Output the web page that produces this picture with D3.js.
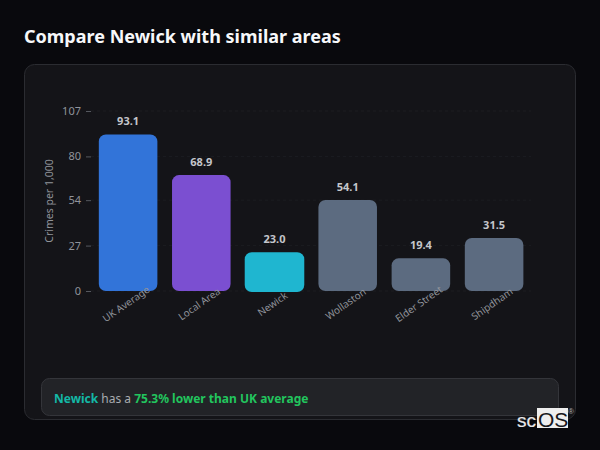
<!DOCTYPE html>
<html>
<head>
<meta charset="utf-8">
<script src="https://cdn.jsdelivr.net/npm/d3@7"></script>
<style>
  html, body { margin: 0; padding: 0; background: #09090d; }
  svg { display: block; font-family: "Noto Sans", sans-serif; }
</style>
</head>
<body>
<div id="vis"></div>
<script>
const areas = ["UK Average", "Local Area", "Newick", "Wollaston", "Elder Street", "Shipdham"]
const crimes = [93.1, 68.9, 23.0, 54.1, 19.4, 31.5]
const barColors = ["#3274d9", "#7b4fd1", "#1fb6d0", "#5c6b80", "#5c6b80", "#5c6b80"]
const yTicks = [0, 27, 54, 80, 107]

const width = 600, height = 450

const svg = d3.select("#vis").append("svg")
  .attr("width", width)
  .attr("height", height)

svg.append("text")
  .attr("x", 24).attr("y", 43)
  .attr("font-size", 18).attr("font-weight", 700)
  .attr("fill", "#f7f8fa")
  .text("Compare Newick with similar areas")

// card
svg.append("rect")
  .attr("x", 24.5).attr("y", 64.5)
  .attr("width", 551).attr("height", 355)
  .attr("rx", 10)
  .attr("fill", "#141418")
  .attr("stroke", "#2b2c31")

const x = d3.scaleBand().domain(areas).range([91.5, 530.7]).paddingInner(0.2).paddingOuter(0.1)
const y = d3.scaleLinear().domain([0, 107]).range([291, 111])

// grid
svg.append("g").selectAll("line")
  .data(yTicks)
  .join("line")
  .attr("x1", 91).attr("x2", 531)
  .attr("y1", d => y(d)).attr("y2", d => y(d))
  .attr("stroke", "#1c1d21")
  .attr("stroke-dasharray", "3,3")

const yAxis = svg.append("g")
  .attr("transform", "translate(91,0)")
  .call(d3.axisLeft(y).tickValues(yTicks).tickSize(5).tickPadding(5))
yAxis.select(".domain").remove()
yAxis.selectAll("line").attr("stroke", "#55585f")
yAxis.selectAll("text")
  .attr("fill", "#90939a")
  .attr("font-size", 11)
  .attr("font-family", "Noto Sans")

svg.append("text")
  .attr("transform", "translate(53,201) rotate(-90)")
  .attr("text-anchor", "middle")
  .attr("font-size", 10.5)
  .attr("fill", "#90939a")
  .text("Crimes per 1,000")

// bars, rounded on all corners
const bars = svg.append("g").selectAll("rect")
  .data(areas)
  .join("rect")
  .attr("x", d => x(d))
  .attr("y", (d, i) => y(crimes[i]))
  .attr("width", x.bandwidth())
  .attr("height", (d, i) => y(0) - y(crimes[i]))
  .attr("rx", 7)
  .attr("fill", (d, i) => barColors[i])

// highlighted bar is a little larger
bars.filter(d => d === "Newick")
  .attr("x", x("Newick") - 0.5)
  .attr("width", x.bandwidth() + 1)
  .attr("height", y(0) - y(23.0) + 1)

svg.append("g").selectAll("text")
  .data(areas)
  .join("text")
  .attr("x", d => x(d) + x.bandwidth() / 2)
  .attr("y", (d, i) => y(crimes[i]) - 9)
  .attr("text-anchor", "middle")
  .attr("font-size", 11)
  .attr("font-weight", 700)
  .attr("fill", "#c4c6cb")
  .text((d, i) => crimes[i].toFixed(1))

// labels are rotated about their own centre
const xAxis = svg.append("g")
  .attr("transform", "translate(0,291)")
  .call(d3.axisBottom(x).tickSize(0).tickPadding(0))
xAxis.select(".domain").remove()
xAxis.selectAll("text")
  .attr("fill", "#90939a")
  .attr("font-size", 10)
  .attr("font-family", "Noto Sans")
  .attr("text-anchor", "middle")
  .attr("y", 0)
  .attr("dy", "0.35em")
  .attr("transform", "translate(-2,13) rotate(-35)")

// note box
svg.append("rect")
  .attr("x", 41.5).attr("y", 378.5)
  .attr("width", 517).attr("height", 37)
  .attr("rx", 8)
  .attr("fill", "#222327")
  .attr("stroke", "#34353a")

const note = svg.append("text")
  .attr("x", 54).attr("y", 403)
  .attr("font-size", 12)
note.append("tspan").attr("font-weight", 700).attr("fill", "#14b8a6").text("Newick")
note.append("tspan").attr("fill", "#a9abb0").text(" has a ")
note.append("tspan").attr("font-weight", 700).attr("fill", "#22c55e").text("75.3% lower than UK average")

// watermark
svg.append("text")
  .attr("x", 517).attr("y", 427)
  .attr("font-size", 19)
  .attr("font-family", "Liberation Sans")
  .attr("fill", "#e8e8ea")
  .attr("stroke", "#e8e8ea")
  .attr("stroke-width", 0.2)
  .text("sc")
svg.append("rect")
  .attr("x", 537).attr("y", 408)
  .attr("width", 31).attr("height", 20)
  .attr("fill", "#eeeeee")
svg.append("text")
  .attr("x", 538).attr("y", 427)
  .attr("font-size", 21)
  .attr("font-family", "Liberation Sans")
  .attr("fill", "#17171b")
  .text("OS")
svg.append("text")
  .attr("x", 568).attr("y", 414)
  .attr("font-size", 8)
  .attr("font-family", "Liberation Sans")
  .attr("fill", "#b0b0b4")
  .text("®")
</script>
</body>
</html>
